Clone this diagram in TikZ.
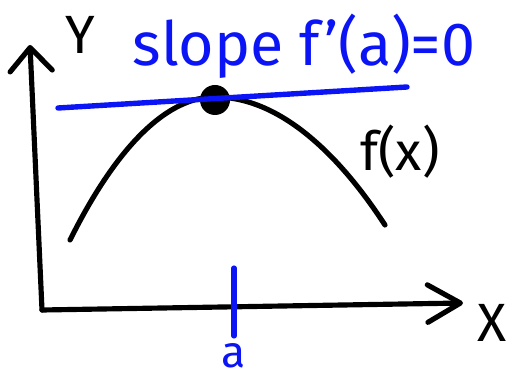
\documentclass[tikz,border=0pt]{standalone}
\usepackage{fontspec}
\setmainfont{Fira Sans}
\usetikzlibrary{arrows.meta}
\definecolor{penblack}{HTML}{000000}
\definecolor{penblue}{HTML}{0A14F5}
\tikzset{
  axis/.style    = {draw=penblack, line width=4.4pt, line cap=round, line join=round},
  curve/.style   = {draw=penblack, line width=4.4pt, line cap=round},
  tangent/.style = {draw=penblue, line width=4.6pt, line cap=round},
  tickmark/.style= {draw=penblue, line width=4.4pt, line cap=round},
  maxdot/.style  = {circle, fill=penblack, minimum size=9mm, inner sep=0pt},
  lbl/.style     = {font=\fontsize{46}{52}\selectfont, inner sep=0pt},
}
\begin{document}
\begin{tikzpicture}[x=0.3mm, y=-0.3mm]
  \useasboundingbox (0,0) rectangle (514,372);
  \coordinate (o)    at (42,310);
  \coordinate (ytip) at (30,45);
  \coordinate (xtip) at (463,303);
  \draw[axis, -{Straight Barb[length=20pt, width=36pt, round]}] (o) -- (ytip);
  \draw[axis, -{Straight Barb[length=28pt, width=32pt, round]}] (o) -- (xtip);
  % the function
  \draw[curve] (70,240) parabola bend (215,97) (385,225);
  \node[maxdot] (peak) at (215,100) {};
  % horizontal tangent at the top
  \coordinate (tl) at (58,108);
  \coordinate (tr) at (407,87);
  \draw[tangent] (tl) -- (tr);
  \coordinate (ttop) at (234,268);
  \coordinate (tbot) at (234,336);
  \draw[tickmark] (ttop) -- (tbot);
  \node[lbl, text=penblue, anchor=base, font=\fontsize{52}{58}\selectfont] (slope) at (304,66) {slope f'(a)=0};
  \node[lbl]               (fx)    at (400,152) {f(x)};
  \node[lbl, text=penblue, anchor=north, font=\fontsize{38}{44}\selectfont] (a) at (234,343) {a};
  \node[lbl]               (ylbl)  at (80,35)   {Y};
  \node[lbl]               (xlbl)  at (492,323) {X};
\end{tikzpicture}
\end{document}
